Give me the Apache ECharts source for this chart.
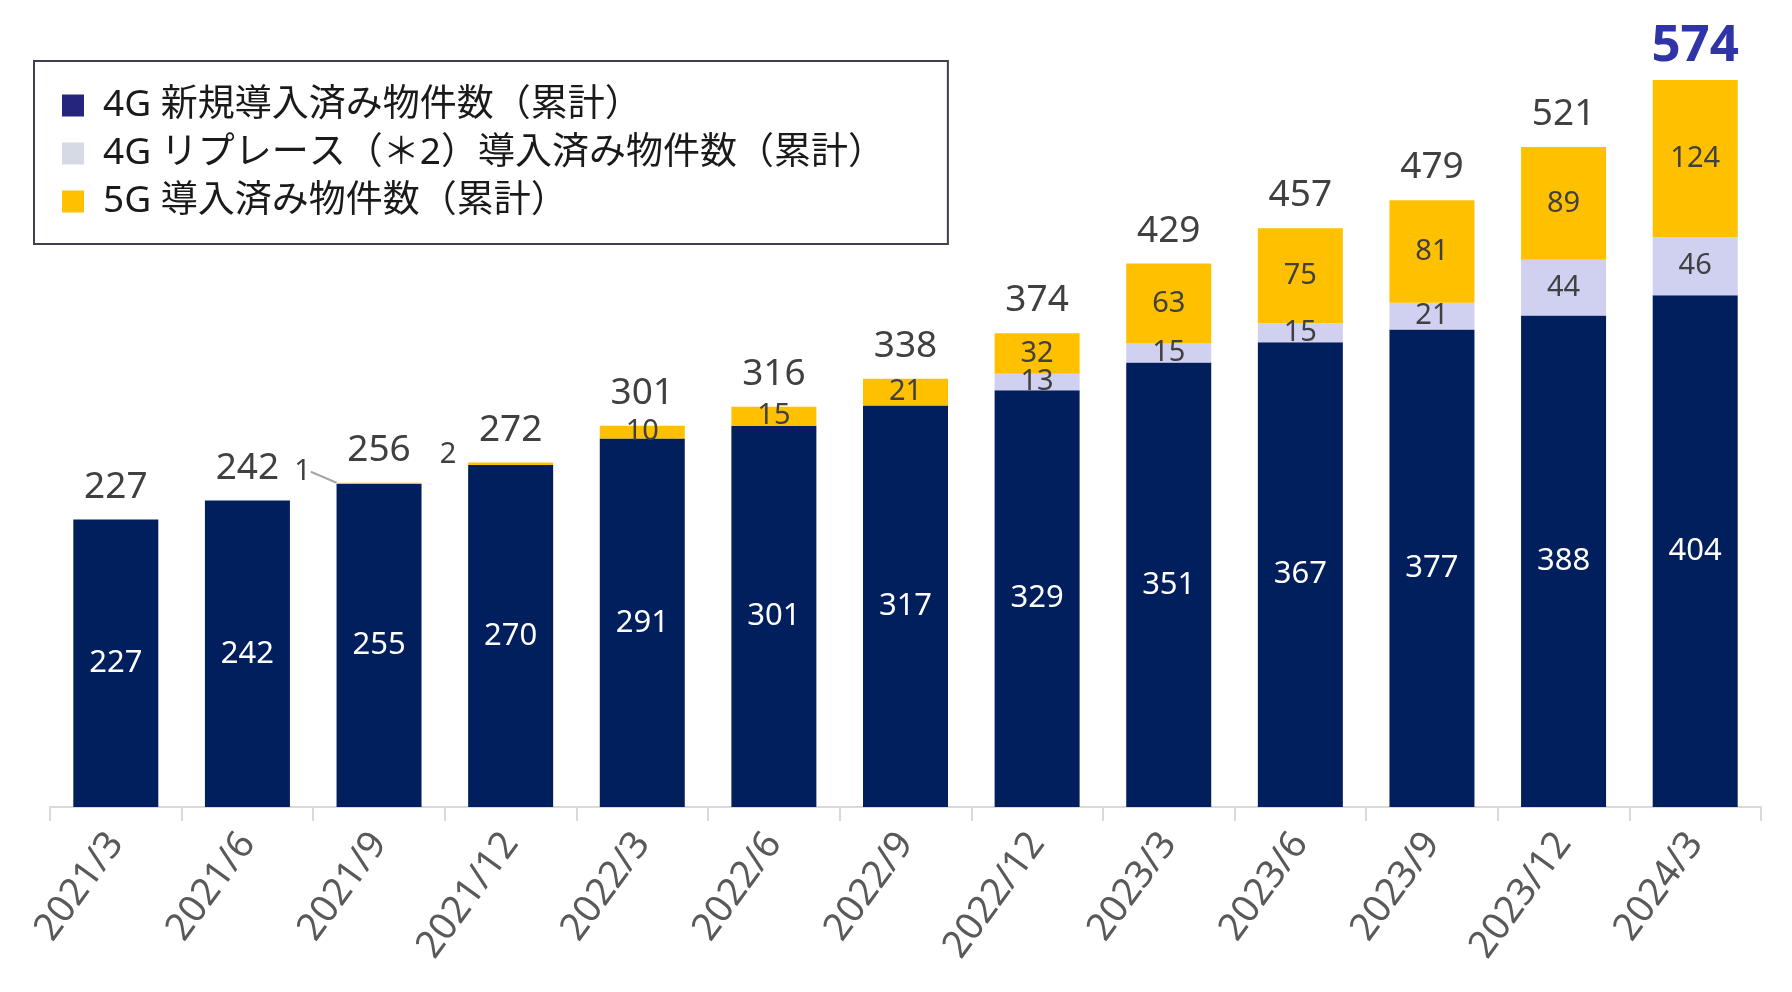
<!DOCTYPE html>
<html><head><meta charset="utf-8">
<script src="https://cdn.jsdelivr.net/npm/echarts@6/dist/echarts.min.js"></script>
<style>html,body{margin:0;padding:0;background:#fff}#c{width:1792px;height:992px}</style>
</head><body><div id="c"></div>
<script>
const categories = ['2021/3','2021/6','2021/9','2021/12','2022/3','2022/6','2022/9','2022/12','2023/3','2023/6','2023/9','2023/12','2024/3'];
const new4G = [227,242,255,270,291,301,317,329,351,367,377,388,404];
const replace4G = [0,0,0,0,0,0,0,13,15,15,21,44,46];
const g5 = [0,0,1,2,10,15,21,32,63,75,81,89,124];
const totals = [227,242,256,272,301,316,338,374,429,457,479,521,574];
const seriesNames = ['4G 新規導入済み物件数（累計）','4G リプレース（＊2）導入済み物件数（累計）','5G 導入済み物件数（累計）'];

const FONT = "'Noto Sans', 'Noto Sans CJK JP', sans-serif";
const chart = echarts.init(document.getElementById('c'), null, {renderer:'canvas'});
const BW = 85;
const hideZero = p => p.value === 0 ? '' : String(p.value);

const g5Data = g5.map((v,i) => {
  if (i === 2) return {value:v, labelLine:{show:true, lineStyle:{color:'#A6A6A6', width:2}}};
  return v;
});
const totalData = totals.map((v,i) => i === totals.length-1
  ? {value:v, label:{fontSize:51, fontWeight:'bold', color:'#2F34A6', distance:8}}
  : v);

chart.setOption({
  animation:false,
  textStyle:{fontFamily:FONT},
  grid:{left:50, right:31, top:47, bottom:185, containLabel:false},
  legend:{
    orient:'vertical', left:34, top:61,
    padding:[26, 63, 24, 28],
    borderColor:'#3F3F4F', borderWidth:2,
    itemWidth:22, itemHeight:22, itemGap:11,
    icon:'rect',
    textStyle:{fontSize:37, color:'#1A1A1A', fontFamily:FONT, padding:[0,0,0,14]},
    data:[
      {name:seriesNames[0], itemStyle:{color:'#25257E'}},
      {name:seriesNames[1], itemStyle:{color:'#D6DAE4'}},
      {name:seriesNames[2], itemStyle:{color:'#FFC000'}}
    ]
  },
  xAxis:{
    type:'category', data:categories,
    axisLine:{lineStyle:{color:'#D9D9D9', width:2}},
    axisTick:{show:true, alignWithLabel:false, length:14, lineStyle:{color:'#D9D9D9', width:2}},
    axisLabel:{rotate:54, fontSize:38, color:'#595959', margin:30, fontFamily:FONT, interval:0}
  },
  yAxis:{type:'value', min:0, max:600, show:false, splitLine:{show:false}},
  series:[
    {name:seriesNames[0], type:'bar', stack:'s', barWidth:BW, data:new4G,
     itemStyle:{color:'#001F5C'},
     label:{show:true, position:'inside', color:'#FFFFFF', fontSize:31, fontFamily:FONT}},
    {name:seriesNames[1], type:'bar', stack:'s', barWidth:BW, data:replace4G,
     itemStyle:{color:'#D0D0F0'},
     label:{show:true, position:'inside', color:'#404040', fontSize:29, fontFamily:FONT, formatter:hideZero}},
    {name:seriesNames[2], type:'bar', stack:'s', barWidth:BW, data:g5Data,
     itemStyle:{color:'#FFC000'},
     label:{show:true, position:'inside', color:'#404040', fontSize:29, fontFamily:FONT, formatter:hideZero},
     labelLayout:function(p){
       if (p.dataIndex === 2) return {x:p.rect.x - 34, y:p.rect.y - 11, align:'center', verticalAlign:'middle'};
       if (p.dataIndex === 3) return {x:p.rect.x - 20, y:p.rect.y - 8, align:'center', verticalAlign:'middle'};
       return {};
     }},
    {name:'total', type:'bar', barWidth:BW, barGap:'-100%', data:totalData, z:0, silent:true,
     itemStyle:{color:'rgba(0,0,0,0)'},
     label:{show:true, position:'top', distance:14, color:'#404040', fontSize:37, fontFamily:FONT}}
  ]
});
</script></body></html>
